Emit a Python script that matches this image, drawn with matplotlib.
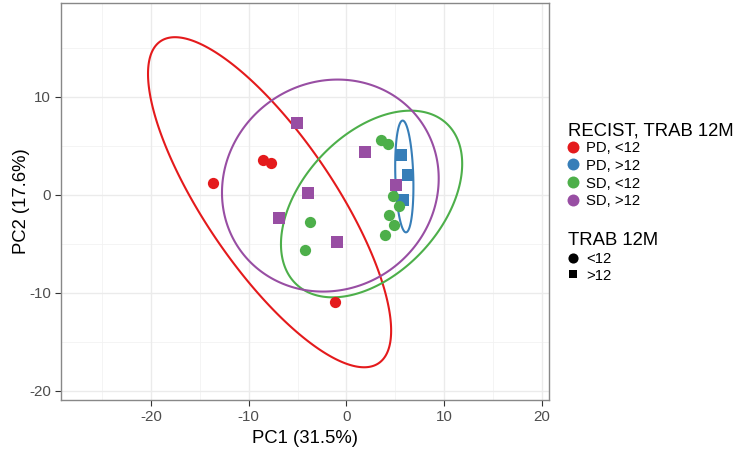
import numpy as np
import matplotlib
matplotlib.use("Agg")
import matplotlib.pyplot as plt
from matplotlib.lines import Line2D
from matplotlib.patches import Polygon

plt.rcParams['font.family'] = ['Liberation Sans', 'DejaVu Sans']
plt.rcParams['axes.unicode_minus'] = False

# ---------------- data ----------------
groups = ["PD, <12", "PD, >12", "SD, <12", "SD, >12"]
colors = ["#E41A1C", "#377EB8", "#4DAF4A", "#984EA3"]
shapes = ["o", "s", "o", "s"]

pd_lt12_x = [-13.6, -8.5, -7.7, -1.2]
pd_lt12_y = [1.2, 3.5, 3.2, -10.9]
pd_gt12_x = [5.64, 6.26, 5.78]
pd_gt12_y = [4.1, 2.0, -0.5]
sd_lt12_x = [3.56, 4.28, 4.75, 5.37, 4.38, 4.85, 3.97, -3.76, -4.2]
sd_lt12_y = [5.58, 5.2, -0.1, -1.2, -2.1, -3.1, -4.1, -2.76, -5.6]
sd_gt12_x = [-5.1, 1.95, -3.9, -6.9, -0.95, 5.06]
sd_gt12_y = [7.3, 4.4, 0.17, -2.4, -4.8, 0.99]

# ellipse (95% stat_ellipse) parameters: centre and shape matrix
ell_cx = [-7.86, 5.93, 2.58, -1.64]
ell_cy = [-0.77, 1.86, -0.95, 0.93]
ell_sxx = [154.8, 0.87, 86.0, 123.0]
ell_syy = [283.6, 32.5, 90.7, 117.0]
ell_sxy = [-163.0, -0.97, 38.0, 8.0]

x_ticks = [-20, -10, 0, 10, 20]
y_ticks = [-20, -10, 0, 10]
shape_labels = ["<12", ">12"]

xs = [pd_lt12_x, pd_gt12_x, sd_lt12_x, sd_gt12_x]
ys = [pd_lt12_y, pd_gt12_y, sd_lt12_y, sd_gt12_y]

# ---------------- figure ----------------
W, H = 745, 454
fig = plt.figure(figsize=(W / 100, H / 100), dpi=100)
ax_l, ax_r, ax_t, ax_b = 60.5, 549, 3, 400
ax = fig.add_axes([ax_l / W, 1 - ax_b / H, (ax_r - ax_l) / W, (ax_b - ax_t) / H])

ax.set_xlim(-29.26, 20.74)
ax.set_ylim(-20.95, 19.56)

# grid
for v in np.arange(-25, 21, 10):
    ax.axvline(v, color="#F2F2F2", lw=0.6, zorder=0)
for v in np.arange(-15, 20, 10):
    ax.axhline(v, color="#F2F2F2", lw=0.6, zorder=0)
for v in x_ticks:
    ax.axvline(v, color="#EBEBEB", lw=1.0, zorder=0)
for v in y_ticks:
    ax.axhline(v, color="#EBEBEB", lw=1.0, zorder=0)

# ellipses
t = np.linspace(0, 2 * np.pi, 400, endpoint=False)
for i in range(4):
    M = np.array([[ell_sxx[i], ell_sxy[i]], [ell_sxy[i], ell_syy[i]]])
    L = np.linalg.cholesky(M)
    pts = L @ np.vstack([np.cos(t), np.sin(t)])
    poly = Polygon(np.column_stack([ell_cx[i] + pts[0], ell_cy[i] + pts[1]]),
                   closed=True, fill=False, edgecolor=colors[i], lw=1.5, zorder=2)
    ax.add_patch(poly)

# points
for i in range(4):
    ms = 8.1 if shapes[i] == "o" else 8.4
    ax.plot(xs[i], ys[i], linestyle="none", marker=shapes[i], color=colors[i],
            markersize=ms, markeredgewidth=0, zorder=3)

ax.set_xticks(x_ticks)
ax.set_yticks(y_ticks)
ax.tick_params(axis="both", direction="out", length=4, width=0.8, color="#333333",
               labelsize=10.9, labelcolor="#4D4D4D", pad=3)
for s in ax.spines.values():
    s.set_color("#888888")
    s.set_linewidth(1.0)

ax.set_xlabel("PC1 (31.5%)", fontsize=13.3)
ax.set_ylabel("PC2 (17.6%)", fontsize=13.3)
ax.xaxis.set_label_coords((304.5 - ax_l) / (ax_r - ax_l), -(430 - ax_b) / (ax_b - ax_t))
ax.yaxis.set_label_coords(-(ax_l - 30) / (ax_r - ax_l), 0.5)

# ---------------- legends ----------------
def fx(x):
    return x / W

def fy(y):
    return 1 - y / H

fig.text(fx(568), fy(135), "RECIST, TRAB 12M", fontsize=13.3, va="baseline", ha="left")
key_y = [146.7, 164.3, 182.3, 200.0]
for i in range(4):
    fig.add_artist(Line2D([fx(573.3)], [fy(key_y[i])], marker="o", color=colors[i],
                          markersize=8.6, markeredgewidth=0, linestyle="none",
                          transform=fig.transFigure))
    fig.text(fx(586), fy(key_y[i] + 5.3), groups[i], fontsize=10.7, va="baseline", ha="left")

fig.text(fx(568), fy(245), "TRAB 12M", fontsize=13.3, va="baseline", ha="left")
key_y2 = [257.7, 274.3]
for j, mk in enumerate(["o", "s"]):
    fig.add_artist(Line2D([fx(573.3)], [fy(key_y2[j])], marker=mk, color="black",
                          markersize=7.3 if mk == "o" else 6.4, markeredgewidth=0,
                          linestyle="none", transform=fig.transFigure))
    fig.text(fx(586), fy(key_y2[j] + 5.3), shape_labels[j], fontsize=10.7,
             va="baseline", ha="left")

fig.savefig("out.png", dpi=100)
